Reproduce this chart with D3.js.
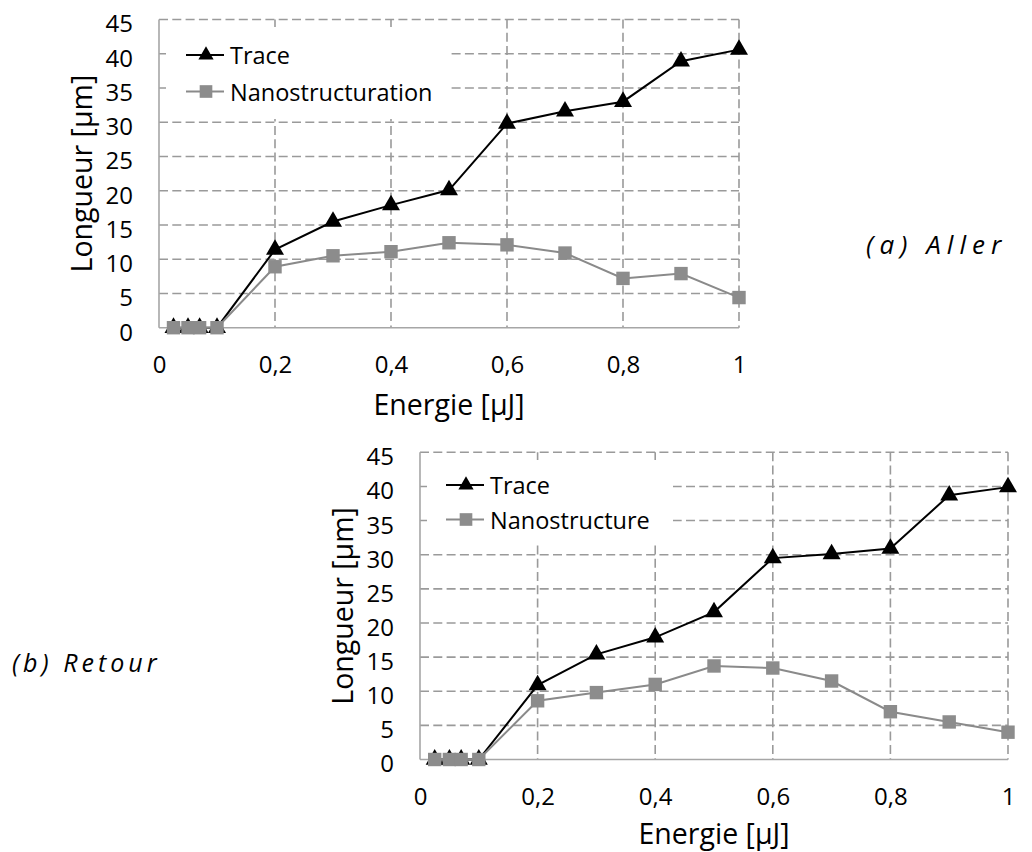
<!DOCTYPE html>
<html>
<head>
<meta charset="utf-8">
<script src="https://cdn.jsdelivr.net/npm/d3@7"></script>
<style>
  html, body { margin: 0; padding: 0; background: #fff; }
  svg { display: block; }
  text { font-family: "Open Sans", "DejaVu Sans", sans-serif; fill: #000; }
</style>
</head>
<body>
<svg id="chart" width="1032" height="852"></svg>
<script>
// ---- Data ----
const energies = [0.025, 0.05, 0.07, 0.1, 0.2, 0.3, 0.4, 0.5, 0.6, 0.7, 0.8, 0.9, 1.0];
const traceAller = [0, 0, 0, 0, 11.4, 15.5, 17.9, 20.1, 29.8, 31.6, 33.0, 38.9, 40.6];
const nanoAller  = [0, 0, 0, 0, 8.9, 10.5, 11.1, 12.4, 12.1, 10.9, 7.2, 7.9, 4.4];
const traceRetour = [0, 0, 0, 0, 10.9, 15.4, 17.9, 21.6, 29.5, 30.1, 30.9, 38.7, 39.9];
const nanoRetour  = [0, 0, 0, 0, 8.6, 9.8, 11.0, 13.7, 13.4, 11.5, 7.0, 5.5, 4.0];
const xTicks = [0, 0.2, 0.4, 0.6, 0.8, 1];
const xTickLabels = ["0", "0,2", "0,4", "0,6", "0,8", "1"];
const yTicks = [0, 5, 10, 15, 20, 25, 30, 35, 40, 45];
const xTitle = "Energie [\u00B5J]";
const yTitle = "Longueur [\u00B5m]";
const seriesNamesAller = ["Trace", "Nanostructuration"];
const seriesNamesRetour = ["Trace", "Nanostructure"];
const panelLabels = ["(a) Aller", "(b) Retour"];

const svg = d3.select("#chart");
const GRID = "#9a9a9a", AXIS = "#a6a6a6", NANO = "#8c8c8c", NANO_LINE = "#8a8a8a";

function drawPanel(cfg) {
  const x = d3.scaleLinear().domain([0, 1]).range([cfg.left, cfg.right]);
  const y = d3.scaleLinear().domain([0, 45]).range([cfg.bottom, cfg.top]);
  const g = svg.append("g");

  // grid horizontal
  g.selectAll(".hg").data(yTicks.filter(d => d > 0)).join("line")
    .attr("x1", cfg.left).attr("x2", cfg.right)
    .attr("y1", d => y(d)).attr("y2", d => y(d))
    .attr("stroke", GRID).attr("stroke-width", 1.6).attr("stroke-dasharray", "9,4.3");
  // grid vertical
  g.selectAll(".vg").data(xTicks.filter(d => d > 0)).join("line")
    .attr("x1", d => x(d)).attr("x2", d => x(d))
    .attr("y1", cfg.top).attr("y2", cfg.bottom)
    .attr("stroke", GRID).attr("stroke-width", 1.6).attr("stroke-dasharray", "9,4.3");

  // legend background (hides grid)
  g.append("rect").attr("x", cfg.legBox[0]).attr("y", cfg.legBox[1])
    .attr("width", cfg.legBox[2]).attr("height", cfg.legBox[3]).attr("fill", "#fff");

  // axes lines
  g.append("line").attr("x1", cfg.left).attr("x2", cfg.left).attr("y1", cfg.top).attr("y2", cfg.bottom)
    .attr("stroke", AXIS).attr("stroke-width", 1.6);
  g.append("line").attr("x1", cfg.left).attr("x2", cfg.right).attr("y1", cfg.bottom).attr("y2", cfg.bottom)
    .attr("stroke", AXIS).attr("stroke-width", 1.6);

  // tick labels via axes (no lines)
  const yAxis = d3.axisLeft(y).tickValues(yTicks).tickSize(0).tickPadding(0).tickFormat(d3.format("d"));
  const ya = g.append("g").attr("transform", `translate(${cfg.left - 26},0)`).call(yAxis);
  ya.select(".domain").remove();
  ya.selectAll("text").attr("font-size", 24).attr("font-family", "Open Sans").attr("fill", "#000")
    .attr("dy", "0.52em").attr("dx", 0);

  const xAxis = d3.axisBottom(x).tickValues(xTicks).tickSize(0).tickPadding(0)
    .tickFormat((d, i) => xTickLabels[i]);
  const xa = g.append("g").attr("transform", `translate(0,${cfg.bottom + 45.6})`).call(xAxis);
  xa.select(".domain").remove();
  xa.selectAll("text").attr("font-size", 24).attr("font-family", "Open Sans").attr("fill", "#000")
    .attr("dy", 0).attr("y", 0);

  // titles
  g.append("text").attr("x", (cfg.left + cfg.right) / 2).attr("y", cfg.bottom + cfg.xTitleOff)
    .attr("text-anchor", "middle").attr("font-size", 28.5).text(xTitle);
  g.append("text").attr("transform", `translate(${cfg.left - 67},${(cfg.top + cfg.bottom) / 2}) rotate(-90)`)
    .attr("text-anchor", "middle").attr("font-size", 28.5).text(yTitle);

  const tri = d3.symbol(d3.symbolTriangle, 140);
  const sq = d3.symbol(d3.symbolSquare, 180);

  const line = d3.line().x(d => x(d[0])).y(d => y(d[1]));
  const tData = energies.map((e, i) => [e, cfg.trace[i]]);
  const nData = energies.map((e, i) => [e, cfg.nano[i]]);

  g.append("path").attr("d", line(tData)).attr("fill", "none").attr("stroke", "#000").attr("stroke-width", 2);
  g.selectAll(".tm").data(tData).join("path")
    .attr("d", tri).attr("transform", d => `translate(${x(d[0])},${y(d[1])})`).attr("fill", "#000");

  g.append("path").attr("d", line(nData)).attr("fill", "none").attr("stroke", NANO_LINE).attr("stroke-width", 2);
  g.selectAll(".nm").data(nData).join("path")
    .attr("d", sq).attr("transform", d => `translate(${x(d[0])},${y(d[1])})`).attr("fill", NANO);

  // legend
  const L = cfg.leg;
  g.append("line").attr("x1", L.x).attr("x2", L.x + 38).attr("y1", L.y1).attr("y2", L.y1)
    .attr("stroke", "#000").attr("stroke-width", 2);
  g.append("path").attr("d", d3.symbol(d3.symbolTriangle, 100))
    .attr("transform", `translate(${L.x + 20},${L.y1})`).attr("fill", "#000");
  g.append("text").attr("x", L.x + 44).attr("y", L.y1 + 9).attr("font-size", 23.5).text(cfg.names[0]);

  g.append("line").attr("x1", L.x).attr("x2", L.x + 38).attr("y1", L.y2).attr("y2", L.y2)
    .attr("stroke", NANO_LINE).attr("stroke-width", 2);
  g.append("path").attr("d", d3.symbol(d3.symbolSquare, 160))
    .attr("transform", `translate(${L.x + 20},${L.y2})`).attr("fill", NANO);
  g.append("text").attr("x", L.x + 44).attr("y", L.y2 + 9).attr("font-size", 23.5).text(cfg.names[1]);
}

drawPanel({
  left: 159, right: 739, top: 19.5, bottom: 327.7, xTitleOff: 87.3,
  trace: traceAller, nano: nanoAller, names: seriesNamesAller,
  legBox: [166, 27, 284, 92],
  leg: { x: 186, y1: 55, y2: 91.5 }
});
drawPanel({
  left: 420, right: 1008, top: 452.3, bottom: 759.5, xTitleOff: 84.5,
  trace: traceRetour, nano: nanoRetour, names: seriesNamesRetour,
  legBox: [427, 460, 246, 81],
  leg: { x: 446, y1: 485, y2: 519.5 }
});

svg.append("text").attr("x", 866).attr("y", 254).attr("font-size", 26).attr("font-style", "italic")
  .attr("letter-spacing", 6).text(panelLabels[0]);
svg.append("text").attr("x", 12).attr("y", 672).attr("font-size", 25).attr("font-style", "italic")
  .attr("letter-spacing", 4).text(panelLabels[1]);
</script>
</body>
</html>
